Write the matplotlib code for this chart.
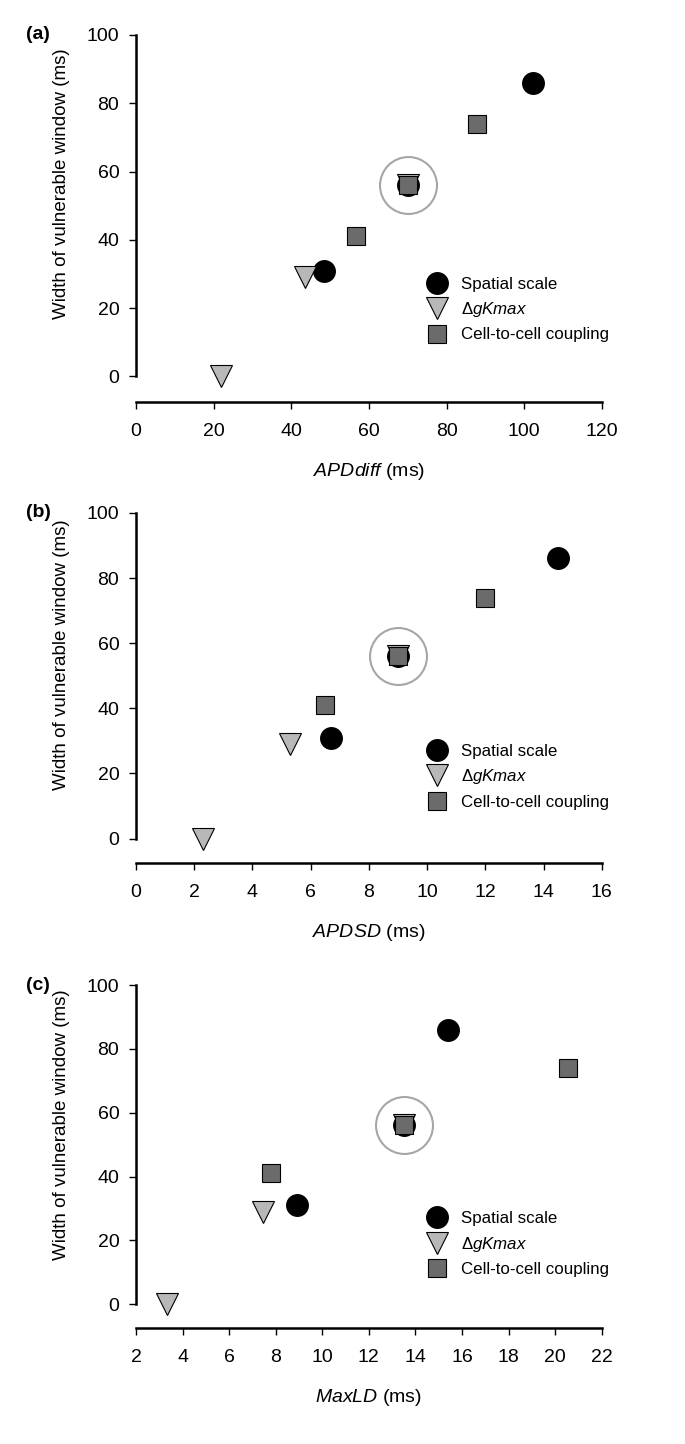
import matplotlib
matplotlib.use("Agg")
import matplotlib.pyplot as plt

plt.rcParams['font.family'] = ['Liberation Sans', 'DejaVu Sans']
plt.rcParams['mathtext.fontset'] = 'custom'
plt.rcParams['mathtext.rm'] = 'Liberation Sans'
plt.rcParams['mathtext.it'] = 'Liberation Sans:italic'

# shared y values (width of vulnerable window, ms)
y_spatial = [31, 56, 86]
y_gk = [0, 29, 56]
y_coup = [41, 56, 74]

# (a) APDdiff
a_spatial = [48.5, 70, 102.3]
a_gk = [22, 43.5, 70]
a_coup = [56.7, 70, 87.8]
a_ref = 70

# (b) APDSD
b_spatial = [6.7, 9.0, 14.5]
b_gk = [2.3, 5.3, 9.0]
b_coup = [6.5, 9.0, 12.0]
b_ref = 9.0

# (c) MaxLD
c_spatial = [8.9, 13.5, 15.4]
c_gk = [3.35, 7.45, 13.5]
c_coup = [7.8, 13.5, 20.55]
c_ref = 13.5
ref_y = 56

panels = [
    ("(a)", "APDdiff", a_spatial, a_gk, a_coup, a_ref, (0, 120), list(range(0, 121, 20)), [0.1985, 0.7216, 0.680, 0.2542]),
    ("(b)", "APDSD", b_spatial, b_gk, b_coup, b_ref, (0, 16), list(range(0, 17, 2)), [0.1985, 0.4024, 0.680, 0.2424]),
    ("(c)", "MaxLD", c_spatial, c_gk, c_coup, c_ref, (2, 22), list(range(2, 23, 2)), [0.1985, 0.0803, 0.680, 0.2375]),
]

fig = plt.figure(figsize=(6.85, 14.44), dpi=100)

for tag, xname, xs, xg, xc, xr, xlim, xticks, pos in panels:
    ax = fig.add_axes(pos)
    ax.plot(xr, ref_y, 'o', ms=41, mfc='none', mec='#a6a6a6', mew=1.5, zorder=2)
    ax.plot(xs, y_spatial, 'o', ms=15.5, mfc='black', mec='black', ls='none',
            label='Spatial scale', zorder=3)
    ax.plot(xg, y_gk, 'v', ms=15.5, mfc='#b8b8b8', mec='black', mew=0.8, ls='none',
            label=r'$\mathit{\Delta gKmax}$', zorder=4)
    ax.plot(xc, y_coup, 's', ms=13, mfc='#6b6b6b', mec='black', mew=0.8, ls='none',
            label='Cell-to-cell coupling', zorder=5)

    ax.set_xlim(*xlim)
    ax.set_ylim(-7.5, 100)
    ax.set_xticks(xticks)
    ax.set_yticks(range(0, 101, 20))
    ax.spines['top'].set_visible(False)
    ax.spines['right'].set_visible(False)
    ax.spines['left'].set_bounds(0, 100)
    ax.spines['left'].set_linewidth(1.8)
    ax.spines['bottom'].set_linewidth(1.8)
    ax.tick_params(axis='y', direction='out', length=5, width=1, labelsize=14, pad=7)
    ax.tick_params(axis='x', direction='out', length=5, width=1, labelsize=14, pad=10)

    ax.set_ylabel("Width of vulnerable window (ms)", fontsize=13.5)
    ax.yaxis.set_label_coords(-0.142, 0.594)
    ax.set_xlabel(r'$\mathit{' + xname + '}$ (ms)', fontsize=14, labelpad=15)

    ax.legend(loc='upper left', bbox_to_anchor=(0.6, 0.365), frameon=False, fontsize=12.2,
              handletextpad=0.7, labelspacing=0.5, borderpad=0, markerscale=1.0,
              handlelength=1.5)

    ax.text(-0.21, 1.0, tag, transform=ax.transAxes, fontsize=14, fontweight='bold',
            ha='center', va='center')

fig.savefig("out.png", dpi=100)
